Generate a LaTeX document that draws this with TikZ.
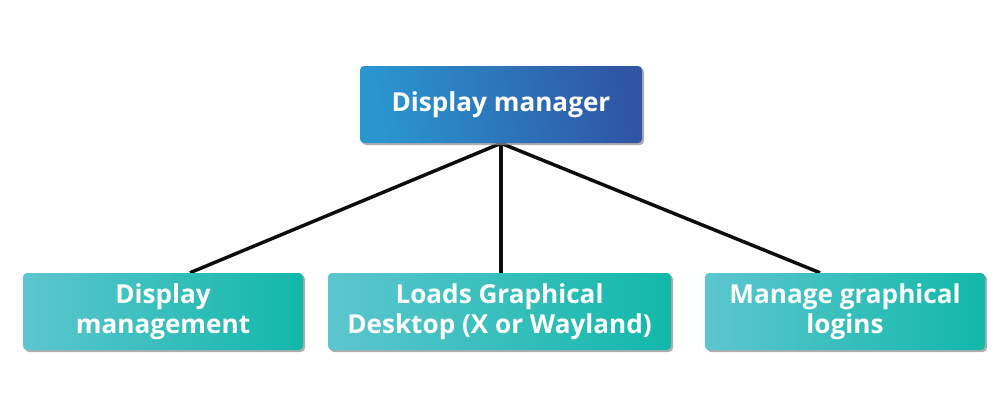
\documentclass[tikz,border=0pt]{standalone}
\usepackage{fontspec}
\setmainfont{Open Sans}
\usetikzlibrary{shadows,calc,backgrounds}
\definecolor{topL}{HTML}{2A96D0}
\definecolor{topR}{HTML}{2F55A6}
\definecolor{botL}{HTML}{5CC6CF}
\definecolor{botR}{HTML}{12B8A9}
\tikzset{
  box/.style={rounded corners=3pt, minimum height=57.75pt, align=center,
    text=white, font=\fontsize{19.6}{22.8}\selectfont\bfseries, inner sep=0pt,
    drop shadow={shadow xshift=1.5pt, shadow yshift=-1.5pt, fill=black!45, opacity=0.7}},
  topbox/.style={box, left color=topL, right color=topR, shading angle=100},
  botbox/.style={box, left color=botL, right color=botR},
  link/.style={line width=2.6pt, black!95}
}
\begin{document}
\begin{tikzpicture}[x=0.75pt,y=-0.75pt]
\useasboundingbox (0,0) rectangle (1000,405);
\node[topbox, minimum width=211.5pt] (dm) at (501,104.5) {Display manager};
\node[botbox, minimum width=210pt] (a) at (163,311.5) {Display\\management};
\node[botbox, minimum width=257.25pt] (b) at (499.5,311.5) {Loads Graphical\\Desktop (X or Wayland)};
\node[botbox, minimum width=210pt] (c) at (845,311.5) {Manage graphical\\logins};
\coordinate (ae) at ($(a.north)+(27,0)$);
\coordinate (ce) at ($(c.north)+(-25,0)$);
\begin{scope}[on background layer]
\draw[link] (dm.south) -- (ae);
\draw[link] (dm.south) -- (a.north -| dm.south);
\draw[link] (dm.south) -- (ce);
\end{scope}
\end{tikzpicture}
\end{document}
